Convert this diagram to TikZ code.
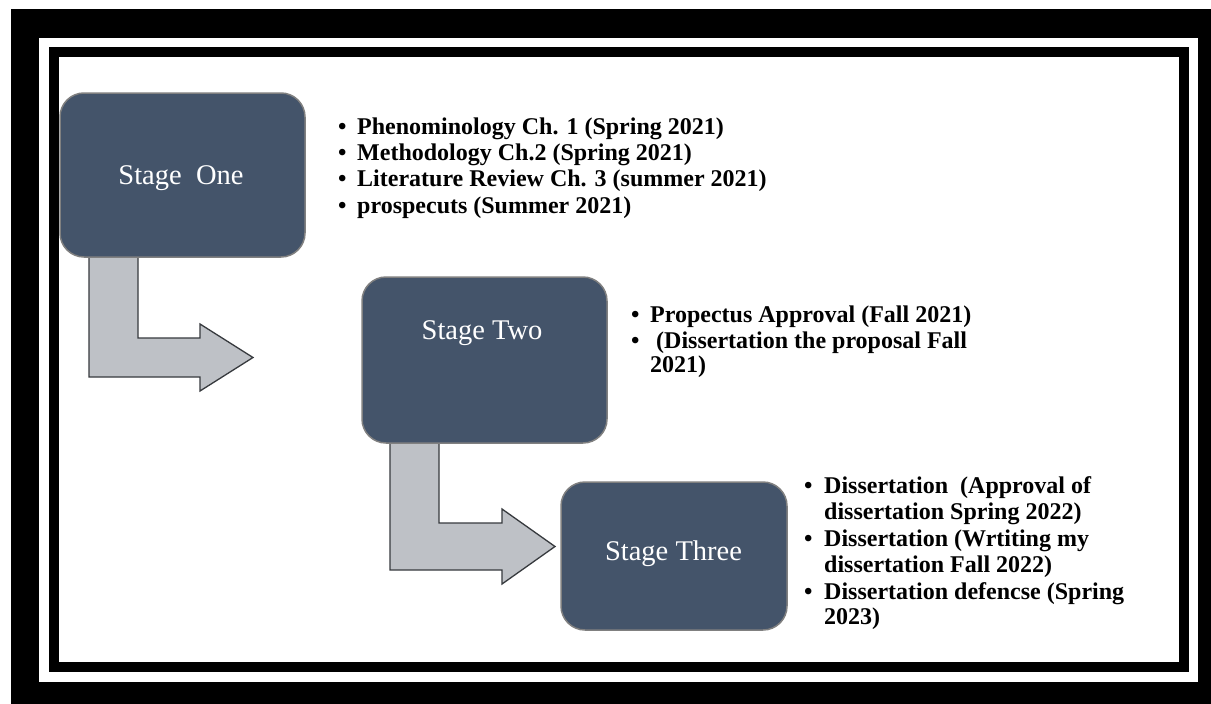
\documentclass[tikz,border=0pt]{standalone}
\usepackage{fontspec}
\setmainfont{Liberation Serif}
\definecolor{stagefill}{RGB}{68,84,106}
\definecolor{stageedge}{RGB}{128,128,128}
\definecolor{arrowfill}{RGB}{190,193,198}
\definecolor{arrowedge}{RGB}{55,58,62}
\begin{document}
\begin{tikzpicture}[x=1pt,y=-1pt,
  stagebox/.style={draw=stageedge, line width=1.5pt, fill=stagefill, rounded corners=24pt, inner sep=0pt},
  stagelabel/.style={text=white, font=\fontsize{28.5}{32}\selectfont, inner sep=0pt, anchor=base},
  blockarrow/.style={fill=arrowfill, draw=arrowedge, line width=1.3pt, line join=miter},
  bul/.style={font=\bfseries\fontsize{24}{26}\selectfont, inner sep=0pt, anchor=base west},
  line/.style={font=\bfseries\fontsize{24}{26}\selectfont, inner sep=0pt, anchor=base west}]
\useasboundingbox (0,0) rectangle (1211,704);
% frames
\fill[white] (0,0) rectangle (1211,704);
\fill[black] (11,9) rectangle (1211,704);
\fill[white] (39,38) rectangle (1198,682);
\fill[black] (49,47) rectangle (1189,672);
\fill[white] (59,57) rectangle (1179,662);
% block arrows
\draw[blockarrow] (89,250) -- (138,250) -- (138,338) -- (200,338) -- (200,324) -- (253,357.5)
  -- (200,391) -- (200,377) -- (89,377) -- cycle;
\draw[blockarrow] (390,436) -- (439,436) -- (439,523) -- (502,523) -- (502,509) -- (555,546.5)
  -- (502,584) -- (502,570) -- (390,570) -- cycle;
% stage boxes
\node[stagebox, minimum width=245pt, minimum height=164pt] (s1) at (182.5,175) {};
\node[stagebox, minimum width=245pt, minimum height=166pt] (s2) at (484.5,360) {};
\node[stagebox, minimum width=226pt, minimum height=148pt] (s3) at (674,556) {};
\node[stagelabel] (l1) at (181,184) {Stage\ \ One};
\node[stagelabel] (l2) at (482,339) {Stage Two};
\node[stagelabel] (l3) at (673.5,560) {Stage Three};
% list one
\node[bul] (b11) at (338,134) {•};
\node[line] (t11) at (357,134) {Phenominology Ch. 1 (Spring 2021)};
\node[bul] (b12) at (338,160) {•};
\node[line] (t12) at (357,160) {Methodology Ch.2 (Spring 2021)};
\node[bul] (b13) at (338,186) {•};
\node[line] (t13) at (357,186) {Literature Review Ch. 3 (summer 2021)};
\node[bul] (b14) at (338,213) {•};
\node[line] (t14) at (357,213) {prospecuts (Summer 2021)};
% list two
\node[bul] (b21) at (631,322) {•};
\node[line] (t21) at (650,322) {Propectus Approval (Fall 2021)};
\node[bul] (b22) at (631,348) {•};
\node[line] (t22) at (656,348) {(Dissertation the proposal Fall};
\node[line] (t23) at (650,372) {2021)};
% list three
\node[bul] (b31) at (804,493) {•};
\node[line] (t31) at (824,493) {Dissertation\ \ (Approval of};
\node[line] (t32) at (824,519) {dissertation Spring 2022)};
\node[bul] (b33) at (804,546) {•};
\node[line] (t33) at (824,546) {Dissertation (Wrtiting my};
\node[line] (t34) at (824,572) {dissertation Fall 2022)};
\node[bul] (b35) at (804,599) {•};
\node[line] (t35) at (824,599) {Dissertation defencse (Spring};
\node[line] (t36) at (824,624) {2023)};
\end{tikzpicture}
\end{document}
